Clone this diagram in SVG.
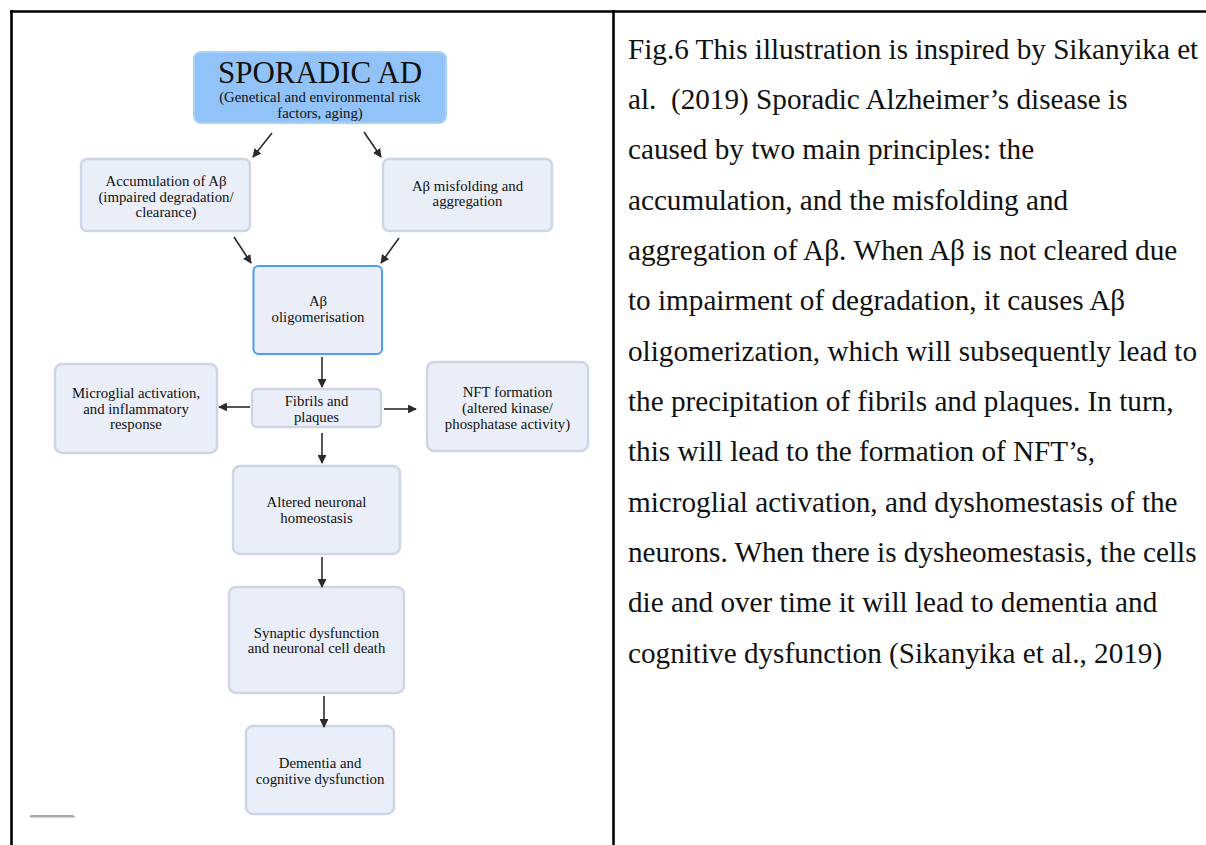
<svg xmlns="http://www.w3.org/2000/svg" width="1206" height="845" viewBox="0 0 1206 845">
<style>
.node{fill:#e9eef9;stroke:#cdd6e5;stroke-width:2.5}
.t{font-family:"Liberation Serif","Times New Roman",serif;font-size:14.8px;fill:#111;text-anchor:middle}
.body{font-family:"Liberation Serif","Times New Roman",serif;font-size:29.2px;fill:#111}
.conn line{stroke:#2b2b2b;stroke-width:1.6;marker-end:url(#ah)}
</style>
<defs>
<marker id="ah" viewBox="0 0 10 10" refX="9" refY="5" markerWidth="5.5" markerHeight="5.5" orient="auto" markerUnits="strokeWidth">
<path d="M0,0 L10,5 L0,10 z" fill="#2b2b2b"/>
</marker>
</defs>
<rect width="1206" height="845" fill="#fff"/>
<g id="frame" stroke="#000" stroke-width="2.6" fill="none">
<line x1="10" y1="11.5" x2="1206" y2="11.5"/>
<line x1="11.5" y1="10" x2="11.5" y2="845"/>
<line x1="613.5" y1="10" x2="613.5" y2="845"/>
</g>
<g id="sporadic">
<rect x="194" y="52" width="252" height="71" rx="7" fill="#91c3f8" stroke="#a9d0fa" stroke-width="2"/>
<text x="320" y="83" class="t" style="font-size:31px">SPORADIC AD</text>
<text x="320" y="101.5" class="t">(Genetical and environmental risk</text>
<text x="320" y="117.5" class="t">factors, aging)</text>
</g>
<g id="accumulation">
<rect x="81" y="159" width="169" height="72" rx="6" class="node"/>
<text x="166" y="186" class="t">Accumulation of Aβ</text>
<text x="166" y="201.5" class="t">(impaired degradation/</text>
<text x="166" y="216.5" class="t">clearance)</text>
</g>
<g id="misfolding">
<rect x="383" y="159" width="169" height="72" rx="6" class="node"/>
<text x="467.5" y="191" class="t">Aβ misfolding and</text>
<text x="467.5" y="206" class="t">aggregation</text>
</g>
<g id="oligomerisation">
<rect x="253.5" y="266" width="128.5" height="88" rx="5" fill="#e9eef9" stroke="#4a9ef5" stroke-width="2"/>
<text x="318" y="306" class="t">Aβ</text>
<text x="318" y="321.5" class="t">oligomerisation</text>
</g>
<g id="microglial">
<rect x="55" y="364" width="162" height="89" rx="7" class="node"/>
<text x="136" y="398" class="t">Microglial activation,</text>
<text x="136" y="413.5" class="t">and inflammatory</text>
<text x="136" y="429" class="t">response</text>
</g>
<g id="fibrils">
<rect x="252" y="389" width="129" height="38" rx="5" class="node"/>
<text x="316.5" y="406" class="t">Fibrils and</text>
<text x="316.5" y="421.5" class="t">plaques</text>
</g>
<g id="nft">
<rect x="427" y="362" width="161" height="89" rx="7" class="node"/>
<text x="507.5" y="397" class="t">NFT formation</text>
<text x="507.5" y="412.5" class="t">(altered kinase/</text>
<text x="507.5" y="428.5" class="t">phosphatase activity)</text>
</g>
<g id="altered">
<rect x="233" y="466" width="167" height="88" rx="7" class="node"/>
<text x="316.5" y="507" class="t">Altered neuronal</text>
<text x="316.5" y="523" class="t">homeostasis</text>
</g>
<g id="synaptic">
<rect x="229" y="587" width="175" height="106" rx="7" class="node"/>
<text x="316.5" y="637.5" class="t">Synaptic dysfunction</text>
<text x="316.5" y="653" class="t">and neuronal cell death</text>
</g>
<g id="dementia">
<rect x="246" y="726" width="148" height="88" rx="7" class="node"/>
<text x="320" y="767.5" class="t">Dementia and</text>
<text x="320" y="783.5" class="t">cognitive dysfunction</text>
</g>
<path d="M30,815 L73,815 Q75,815 75,817.5 L30,817.5 z" fill="#aaaaaa"/>
<g id="connectors" class="conn">
<line x1="272" y1="133" x2="253" y2="157"/>
<line x1="364" y1="132" x2="381" y2="157"/>
<line x1="234" y1="237" x2="251" y2="263"/>
<line x1="399" y1="238" x2="381" y2="263"/>
<line x1="322" y1="357" x2="322" y2="387"/>
<line x1="250" y1="407" x2="219" y2="407"/>
<line x1="384" y1="409" x2="416" y2="409"/>
<line x1="322" y1="433" x2="322" y2="463"/>
<line x1="322" y1="557" x2="322" y2="587"/>
<line x1="324" y1="696" x2="324" y2="727"/>
</g>
<g id="caption" class="body">
<text x="628" y="58.5">Fig.6 This illustration is inspired by Sikanyika et</text>
<text x="628" y="108.8" xml:space="preserve" style="white-space:pre">al.  (2019) Sporadic Alzheimer’s disease is</text>
<text x="628" y="159.2">caused by two main principles: the</text>
<text x="628" y="209.5">accumulation, and the misfolding and</text>
<text x="628" y="259.8">aggregation of Aβ. When Aβ is not cleared due</text>
<text x="628" y="310.2">to impairment of degradation, it causes Aβ</text>
<text x="628" y="360.5">oligomerization, which will subsequently lead to</text>
<text x="628" y="410.8">the precipitation of fibrils and plaques. In turn,</text>
<text x="628" y="461.2">this will lead to the formation of NFT’s,</text>
<text x="628" y="511.5">microglial activation, and dyshomestasis of the</text>
<text x="628" y="561.8">neurons. When there is dysheomestasis, the cells</text>
<text x="628" y="612.2">die and over time it will lead to dementia and</text>
<text x="628" y="662.5">cognitive dysfunction (Sikanyika et al., 2019)</text>
</g>
</svg>
